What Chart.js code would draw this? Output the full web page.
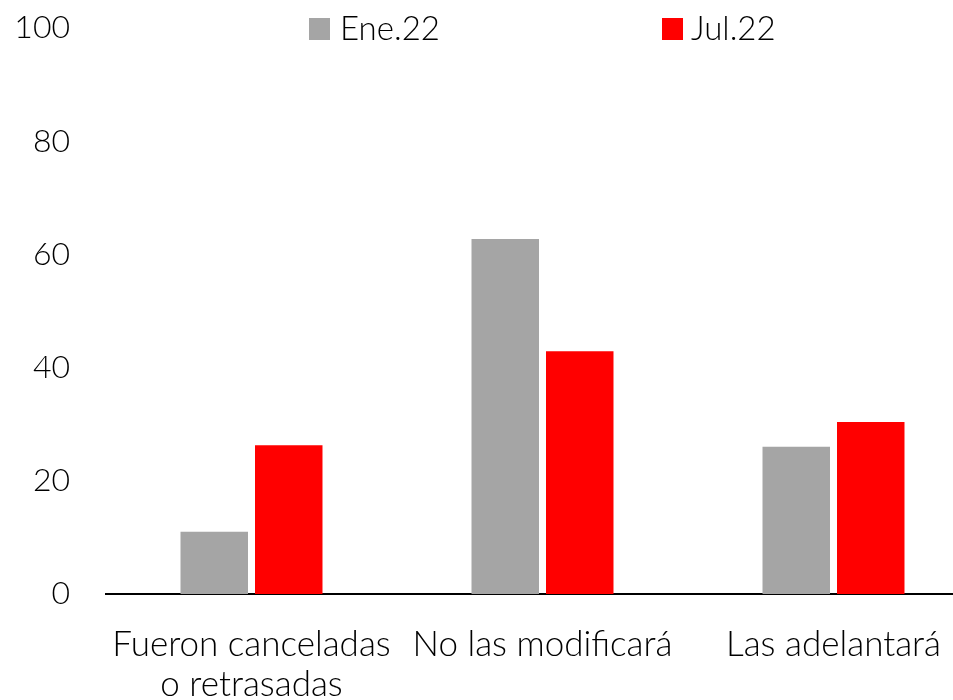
<!DOCTYPE html>
<html>
<head>
<meta charset="utf-8">
<script src="https://cdn.jsdelivr.net/npm/chart.js@4"></script>
<style>
html,body{margin:0;padding:0;overflow:hidden;background:#fff;}
#wrap{position:relative;width:979px;height:700px;}
</style>
</head>
<body>
<div id="wrap"><canvas id="c"></canvas></div>
<script>
const categories = [["Fueron canceladas","o retrasadas"], "No las modificará", "Las adelantará"];
const seriesNames = ["Ene.22", "Jul.22"];
const ene22 = [11, 62.7, 26.0];
const jul22 = [26.3, 42.9, 30.4];
const yTicks = [0, 20, 40, 60, 80, 100];

const FONT = "Lato, 'Open Sans', sans-serif";
const colors = ["#A5A5A5", "#FF0000"];

const legendPlugin = {
  id: 'customLegend',
  afterDraw(chart) {
    const ctx = chart.ctx;
    const pos = [{box: 309, text: 340}, {box: 662, text: 691}];
    ctx.save();
    ctx.font = "300 33px " + FONT;
    ctx.textBaseline = 'alphabetic';
    chart.data.datasets.forEach((ds, i) => {
      ctx.fillStyle = ds.backgroundColor;
      ctx.fillRect(pos[i].box, 18, 21, 22);
      ctx.fillStyle = '#000';
      ctx.fillText(ds.label, pos[i].text, 40);
    });
    ctx.restore();
  }
};

new Chart(document.getElementById('c'), {
  type: 'bar',
  data: {
    labels: categories,
    datasets: [
      {label: seriesNames[0], data: ene22, backgroundColor: colors[0], categoryPercentage: 0.512, barPercentage: 0.906},
      {label: seriesNames[1], data: jul22, backgroundColor: colors[1], categoryPercentage: 0.512, barPercentage: 0.906}
    ]
  },
  options: {
    responsive: true,
    maintainAspectRatio: false,
    animation: false,
    layout: {padding: {left: 16, top: 28, right: 0, bottom: 0}},
    plugins: {legend: {display: false}, tooltip: {enabled: false}},
    scales: {
      x: {
        grid: {display: false, drawTicks: false},
        border: {display: true, color: '#000', width: 2},
        ticks: {color: '#000', font: {family: FONT, size: 35, weight: 300, lineHeight: '40px'}, padding: 31, maxRotation: 0, autoSkip: false},
        afterFit(scale) { scale.height = 106; scale.paddingLeft = 0; scale.paddingRight = 0; }
      },
      y: {
        min: 0, max: 100,
        afterBuildTicks(scale) { scale.ticks = yTicks.map(v => ({value: v})); },
        grid: {display: false, drawTicks: false},
        border: {display: false},
        ticks: {color: '#000', font: {family: FONT, size: 32, weight: 300}, padding: 36},
        afterFit(scale) { scale.width = 90; scale.paddingTop = 0; scale.paddingBottom = 0; }
      }
    }
  },
  plugins: [legendPlugin]
});
</script>
</body>
</html>
